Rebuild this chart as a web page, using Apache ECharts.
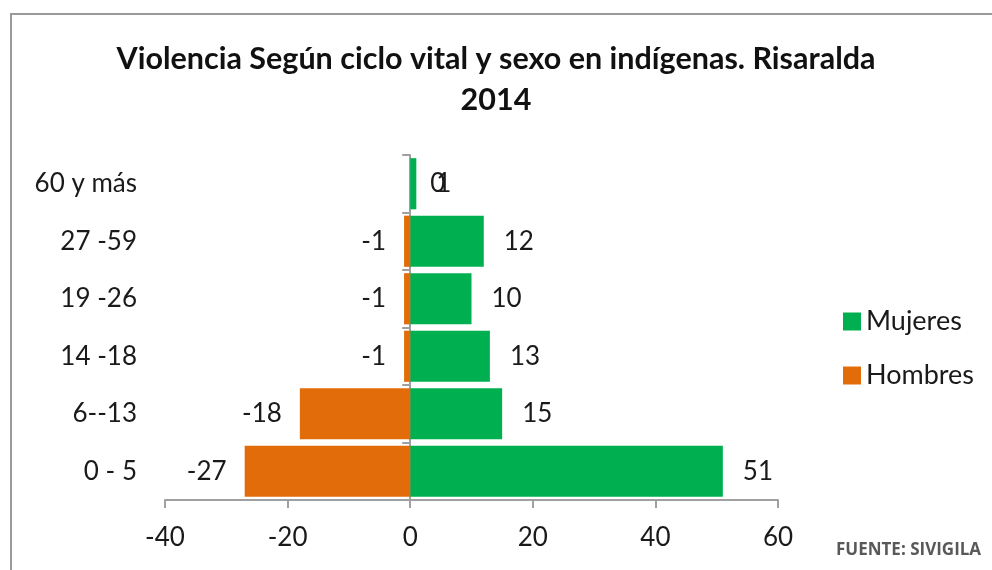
<!DOCTYPE html>
<html>
<head>
<meta charset="utf-8">
<script src="https://cdn.jsdelivr.net/npm/echarts@6/dist/echarts.min.js"></script>
<style>
	html, body { margin: 0; padding: 0; background: #fff; }
	#frame {
		position: absolute; left: 10px; top: 13px; width: 990px; height: 570px;
		border-top: 2px solid #9a9a9a; border-left: 2px solid #9a9a9a;
	}
	#chart { position: absolute; left: 0; top: 0; width: 992px; height: 570px; }
</style>
</head>
<body>
<div id="frame"></div>
<div id="chart"></div>
<script>
// grupos de edad (abajo hacia arriba)
const categories = ['0 - 5', '6--13', '14 -18', '19 -26', '27 -59', '60 y más']
const mujeres = [51, 15, 13, 10, 12, 1]
const hombres = [-27, -18, -1, -1, -1, 0]
const xTicks = { min: -40, max: 60, interval: 20 }

const font = 'Lato, "Open Sans", sans-serif'
const textColor = '#1a1a1a'

var myChart = echarts.init(document.getElementById('chart'))

let option = {
	animation: false,
	title: {
		text: 'Violencia Según ciclo vital y sexo en indígenas. Risaralda\n2014',
		left: 'center',
		top: 34,
		textStyle: {
			fontFamily: font,
			fontWeight: 'bold',
			fontSize: 30.5,
			lineHeight: 41,
			color: '#111'
		}
	},
	legend: {
		orient: 'vertical',
		left: 843,
		top: 308,
		padding: 0,
		icon: 'rect',
		itemWidth: 18,
		itemHeight: 18,
		itemGap: 27,
		data: ['Mujeres', 'Hombres'],
		textStyle: { fontFamily: font, fontSize: 27, color: textColor }
	},
	grid: {
		left: 165,
		right: 214,
		top: 155,
		bottom: 70,
		outerBoundsMode: 'none'
	},
	xAxis: {
		type: 'value',
		min: xTicks.min,
		max: xTicks.max,
		interval: xTicks.interval,
		splitLine: { show: false },
		axisLine: { show: true, lineStyle: { color: '#a0a0a0', width: 2 } },
		axisTick: { show: true, length: 8, lineStyle: { color: '#a0a0a0', width: 2 } },
		axisLabel: { fontFamily: font, fontSize: 26, color: textColor, margin: 25 }
	},
	yAxis: {
		type: 'category',
		data: categories,
		axisLine: { onZero: true, lineStyle: { color: '#a0a0a0', width: 2 } },
		axisTick: { show: true, length: 8, lineStyle: { color: '#a0a0a0', width: 2 } },
		axisLabel: { fontFamily: font, fontSize: 26, color: textColor, margin: 28 }
	},
	series: [
		{
			name: 'Mujeres',
			type: 'bar',
			barCategoryGap: '11%',
			barGap: '-100%',
			itemStyle: { color: '#00b050' },
			label: {
				show: true,
				position: 'right',
				distance: 20,
				fontFamily: font,
				fontSize: 26,
				color: textColor
			},
			data: mujeres
		},
		{
			name: 'Hombres',
			type: 'bar',
			barCategoryGap: '11%',
			barGap: '-100%',
			itemStyle: { color: '#e36c0a' },
			label: {
				show: true,
				position: 'left',
				distance: 18,
				fontFamily: font,
				fontSize: 26,
				color: textColor
			},
			// el cero se dibuja a la derecha, como en el original
			data: hombres.map(v => v === 0 ? { value: v, label: { position: 'right', distance: 20 } } : v)
		}
	],
	graphic: [
		{
			type: 'text',
			left: 836,
			top: 542,
			style: {
				text: 'FUENTE: SIVIGILA',
				fontFamily: '"Open Sans", sans-serif',
				fontSize: 17,
				fontWeight: 'bold',
				fill: '#595959'
			}
		}
	]
}
myChart.setOption(option)
</script>
</body>
</html>
